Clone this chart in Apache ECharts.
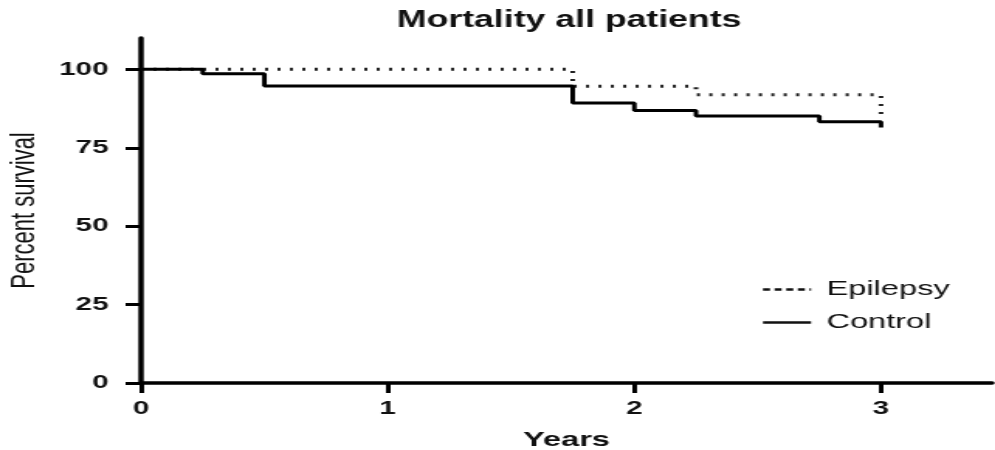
<!DOCTYPE html>
<html><head><meta charset="utf-8">
<script src="https://cdn.jsdelivr.net/npm/echarts@6/dist/echarts.min.js"></script>
<style>
html,body{margin:0;padding:0;background:#fff;overflow:hidden;}
#wrap{width:995px;height:450px;overflow:hidden;}
#chart{width:642px;height:450px;transform:scaleX(1.55);transform-origin:0 0;}
</style></head><body><div id="wrap"><div id="chart"></div></div>
<script>
const titleText = 'Mortality all patients';
const xName = 'Years';
const yName = 'Percent survival';
const seriesNames = ['Epilepsy', 'Control'];
const epilepsyYears = [0, 1.75, 2.25, 3];
const epilepsySurvival = [100, 94.6, 91.9, 85.8];
const controlYears = [0, 0.25, 0.5, 1.75, 2, 2.25, 2.75, 3];
const controlSurvival = [100, 98.6, 94.7, 89.3, 86.9, 85.1, 83.3, 81.5];
const xTicks = [0, 1, 2, 3];
const yTicks = [0, 25, 50, 75, 100];

const FONT = 'Liberation Sans, Arial, sans-serif';
const pair = (xs, ys) => xs.map((x, i) => [x, ys[i]]);

const chart = echarts.init(document.getElementById('chart'), null, {renderer: 'canvas'});
chart.setOption({
  animation: false,
  backgroundColor: '#fff',
  title: {
    text: titleText, left: 256, top: 9, padding: 0,
    textStyle: {fontFamily: FONT, fontSize: 23, fontWeight: 'bold', color: '#111'}
  },
  legend: {
    orient: 'vertical', left: 491, top: 279, itemWidth: 31, itemHeight: 14, itemGap: 12,
    padding: 0,
    itemStyle: {opacity: 0},
    textStyle: {fontFamily: FONT, fontSize: 21, color: '#111', padding: [0, 0, 0, 5]},
    data: [
      {name: seriesNames[0], itemStyle: {opacity: 0}, lineStyle: {type: [4.5, 3], width: 2.5, color: '#111'}},
      {name: seriesNames[1], itemStyle: {opacity: 0}, lineStyle: {type: 'solid', width: 2.5, color: '#111'}}
    ]
  },
  grid: {left: 91, right: 2, top: 38, bottom: 67, containLabel: false, outerBoundsMode: 'none'},
  xAxis: {
    type: 'value', min: 0, max: 3.45, interval: 1,
    name: xName, nameLocation: 'middle', nameGap: 47,
    nameTextStyle: {fontFamily: FONT, fontSize: 21, fontWeight: 'bold', color: '#111'},
    axisLine: {show: true, lineStyle: {color: '#000', width: 3.5}},
    axisTick: {show: true, length: 10, lineStyle: {color: '#000', width: 3}, customValues: xTicks},
    axisLabel: {margin: 16, fontFamily: FONT, fontSize: 19, fontWeight: 'bold', color: '#111', customValues: xTicks},
    splitLine: {show: false}
  },
  yAxis: {
    type: 'value', min: 0, max: 110, interval: 25,
    name: yName, nameLocation: 'middle', nameGap: 64, nameRotate: 90,
    nameTextStyle: {fontFamily: FONT, fontSize: 22, color: '#111'},
    axisLine: {show: true, lineStyle: {color: '#000', width: 3.5}},
    axisTick: {show: true, length: 10, lineStyle: {color: '#000', width: 3}, customValues: yTicks},
    axisLabel: {margin: 21, fontFamily: FONT, fontSize: 19, fontWeight: 'bold', color: '#111', customValues: yTicks},
    splitLine: {show: false}
  },
  series: [
    {
      name: seriesNames[0], type: 'line', step: 'end', symbol: 'none', z: 2,
      lineStyle: {color: '#222', width: 3, type: [2, 6]},
      itemStyle: {color: '#222'},
      data: pair(epilepsyYears, epilepsySurvival)
    },
    {
      name: seriesNames[1], type: 'line', step: 'end', symbol: 'none', z: 3,
      lineStyle: {color: '#000', width: 3, type: 'solid'},
      itemStyle: {color: '#000'},
      data: pair(controlYears, controlSurvival)
    }
  ]
});
</script></body></html>
